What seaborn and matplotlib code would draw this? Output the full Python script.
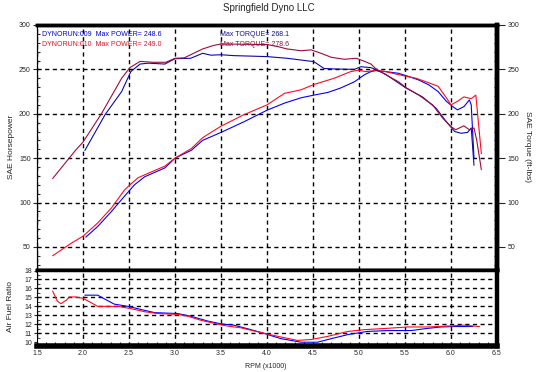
import numpy as np
import matplotlib
matplotlib.use('Agg')
import matplotlib.pyplot as plt
from matplotlib.ticker import MultipleLocator
import seaborn as sns

sns.set_style('ticks')
plt.rcParams['font.family'] = ['Liberation Sans', 'DejaVu Sans']

# Run 009 (blue) - power / torque
rpm_hp009 = [2.03, 2.16, 2.31, 2.45, 2.56, 2.67, 2.89, 3.0, 3.18, 3.3, 3.5, 3.75, 4.0, 4.19,
             4.37, 4.51, 4.66, 4.8, 4.95, 5.06, 5.13, 5.18, 5.29, 5.43, 5.54, 5.65, 5.76,
             5.86, 5.95, 6.02, 6.07, 6.14, 6.2, 6.22, 6.25]
hp_009 = [61, 73, 90, 107, 120, 129, 139, 150, 159, 170, 179, 191, 204, 212,
          218, 221, 224, 229, 236, 244, 247.5, 248.6, 247.5, 245.6, 242, 238, 232.5,
          225, 214, 208, 204.4, 208, 215.6, 210, 150]
rpm_tq009 = [2.02, 2.24, 2.42, 2.52, 2.62, 2.71, 2.89, 3.0, 3.17, 3.3, 3.39, 3.5, 3.64, 4.0,
             4.22, 4.51, 4.62, 4.73, 4.95, 5.02, 5.13, 5.29, 5.51, 5.69, 5.84, 5.95, 6.04,
             6.11, 6.18, 6.22, 6.25]
tq_009 = [158.6, 199, 225, 247.5, 256, 257, 256, 262, 262.5, 268.1, 266, 266.5, 265.5, 264.4,
          262.5, 258.7, 251, 250.5, 250, 253, 252, 244.5, 229, 219, 206, 191, 180,
          178, 179, 184, 142]

# Run 010 (red) - power / torque
rpm_hp010 = [1.67, 1.87, 2.0, 2.16, 2.31, 2.45, 2.51, 2.6, 2.71, 2.89, 3.0, 3.18, 3.3, 3.5,
             3.75, 4.0, 4.19, 4.37, 4.51, 4.73, 4.91, 4.99, 5.08, 5.18, 5.29, 5.43, 5.62,
             5.73, 5.86, 5.95, 6.0, 6.07, 6.14, 6.22, 6.27, 6.33]
hp_010 = [40, 54, 62, 77, 94, 114, 120, 128, 133, 141, 150, 161, 173, 186,
          199, 210, 223, 227, 233, 240, 247.5, 249, 247.5, 249, 247.5, 244, 240,
          236, 231, 218, 210, 214, 219, 217, 221, 155]
rpm_tq010 = [1.67, 1.92, 2.0, 2.2, 2.42, 2.51, 2.62, 2.76, 2.9, 3.0, 3.1, 3.3, 3.42, 3.5,
             4.0, 4.12, 4.22, 4.37, 4.48, 4.59, 4.7, 4.84, 4.97, 5.05, 5.13, 5.18, 5.29,
             5.43, 5.51, 5.65, 5.8, 5.91, 6.0, 6.05, 6.14, 6.2, 6.25, 6.28, 6.33]
tq_010 = [127, 159, 168, 200, 240, 252, 259, 258, 258, 262.5, 263, 273, 277, 278.6,
          278, 275.6, 273, 271, 272, 268, 263.6, 261.4, 262.5, 259.5, 256, 251, 244,
          236, 229.5, 221, 210, 195, 185.6, 182, 186.4, 182, 184, 170, 137]

# Air fuel ratio
rpm_afr009 = [2.02, 2.16, 2.23, 2.34, 2.49, 2.63, 2.78, 3.03, 3.17, 3.36, 3.5, 3.64, 3.79,
              3.93, 4.15, 4.37, 4.55, 4.7, 4.88, 5.09, 5.31, 5.57, 5.71, 5.89, 6.04, 6.24]
afr_009 = [15.25, 15.25, 14.85, 14.25, 14.0, 13.65, 13.3, 13.2, 12.9, 12.35, 12.05, 11.9, 11.5,
           11.1, 10.4, 10.0, 10.0, 10.4, 10.85, 11.2, 11.3, 11.3, 11.5, 11.7, 11.75, 11.75]
rpm_afr010 = [1.67, 1.72, 1.76, 1.82, 1.85, 1.92, 2.0, 2.09, 2.16, 2.38, 2.52, 2.67, 2.81,
              3.03, 3.14, 3.28, 3.43, 3.57, 3.72, 3.86, 4.01, 4.12, 4.33, 4.48, 4.66, 4.88,
              5.06, 5.31, 5.53, 5.75, 5.96, 6.14, 6.31]
afr_010 = [15.7, 14.6, 14.3, 14.7, 15.05, 15.05, 14.9, 14.4, 14.0, 14.0, 13.75, 13.4, 13.2,
           13.1, 12.9, 12.45, 12.1, 11.8, 11.6, 11.25, 10.9, 10.65, 10.2, 10.3, 10.65, 11.2,
           11.4, 11.55, 11.7, 11.7, 11.8, 11.9, 11.75]

hp_ticks = [50, 100, 150, 200, 250, 300]
afr_ticks = [10, 11, 12, 13, 14, 15, 16, 17, 18]
rpm_ticks = [1.5, 2.0, 2.5, 3.0, 3.5, 4.0, 4.5, 5.0, 5.5, 6.0, 6.5]

BLUE = '#0000ff'
NAVY = '#0a0aa8'
RED = '#ff0a1e'
MAROON = '#a00a3c'
LW = 0.8
grid_kw = dict(color='black', linestyle=(0, (3, 2.5)), linewidth=1.0)

fig = plt.figure(figsize=(5.37, 3.72), dpi=100)
ax = fig.add_axes([0.0689, 0.2742, 0.8566, 0.6586])
ax2 = ax.twinx()
afr = fig.add_axes([0.0689, 0.0712, 0.8566, 0.2030])

sns.lineplot(x=rpm_hp009, y=hp_009, color=BLUE, lw=LW, sort=False, estimator=None, ax=ax)
sns.lineplot(x=rpm_hp010, y=hp_010, color=RED, lw=LW, sort=False, estimator=None, ax=ax)
sns.lineplot(x=rpm_tq009, y=tq_009, color=NAVY, lw=LW, sort=False, estimator=None, ax=ax2)
sns.lineplot(x=rpm_tq010, y=tq_010, color=MAROON, lw=LW, sort=False, estimator=None, ax=ax2)
sns.lineplot(x=rpm_afr009, y=afr_009, color=BLUE, lw=LW, sort=False, estimator=None, ax=afr)
sns.lineplot(x=rpm_afr010, y=afr_010, color=RED, lw=LW, sort=False, estimator=None, ax=afr)

for a in (ax, ax2):
    a.set_ylim(24, 300)
    a.set_xlim(1.5, 6.5)
    a.set_yticks(hp_ticks)
    a.yaxis.set_minor_locator(MultipleLocator(10))
    a.set_ylabel('')
ax.xaxis.set_major_locator(MultipleLocator(0.5))
ax.tick_params(axis='x', length=0, labelbottom=False)
ax.tick_params(axis='y', which='major', direction='out', length=3, width=0.8, pad=1.5, labelsize=5)
ax.tick_params(axis='y', which='minor', direction='in', length=2.5, width=0.8)
ax2.tick_params(axis='y', which='major', direction='out', length=6, width=0.8, pad=1.5, labelsize=5)
ax2.tick_params(axis='y', which='minor', direction='in', length=2.5, width=0.8)
ax.grid(True, which='major', **grid_kw)

afr.set_xlim(1.5, 6.5)
afr.set_ylim(9.63, 18.06)
afr.set_yticks(afr_ticks)
afr.yaxis.set_minor_locator(MultipleLocator(0.5))
afr.set_xticks(rpm_ticks)
afr.set_xticklabels([f'{t:.1f}' for t in rpm_ticks])
afr.xaxis.set_minor_locator(MultipleLocator(0.1))
afr.tick_params(axis='x', which='major', length=0, pad=3, labelsize=5)
afr.tick_params(axis='x', which='minor', direction='in', length=3, width=0.8)
afr.tick_params(axis='y', which='major', direction='out', length=2, width=0.8, pad=1.5, labelsize=5)
afr.tick_params(axis='y', which='minor', direction='in', length=2, width=0.6)
afr.grid(True, axis='x', which='major', **grid_kw)
for t in afr_ticks[1:-1]:
    afr.axhline(t, zorder=0.5, **grid_kw)
afr.set_ylabel('')

for a in (ax, ax2, afr):
    for s in a.spines.values():
        s.set_color('black')
ax.spines['top'].set_linewidth(2.5)
ax.spines['left'].set_linewidth(0.8)
ax.spines['bottom'].set_linewidth(2.5)
ax.spines['right'].set_linewidth(3.2)
ax2.spines['right'].set_linewidth(3.2)
ax2.spines['top'].set_linewidth(2.5)
ax2.spines['bottom'].set_linewidth(2.5)
afr.spines['top'].set_linewidth(2.5)
afr.spines['left'].set_linewidth(0.8)
afr.spines['right'].set_linewidth(3.2)
afr.spines['bottom'].set_linewidth(4)

# run annotations
ax.text(0.01, 0.963, 'DYNORUN:009  Max POWER= 248.6', color='#0000d0', fontsize=5,
        transform=ax.transAxes, va='center')
ax.text(0.01, 0.922, 'DYNORUN:010  Max POWER= 249.0', color='#e0102a', fontsize=5,
        transform=ax.transAxes, va='center')
ax.text(0.398, 0.963, 'Max TORQUE= 268.1', color='#101080', fontsize=5,
        transform=ax.transAxes, va='center')
ax.text(0.398, 0.922, 'Max TORQUE= 278.6', color='#901030', fontsize=5,
        transform=ax.transAxes, va='center')

fig.text(0.5, 0.978, 'Springfield Dyno LLC', ha='center', va='center', fontsize=7)
fig.text(0.022, 0.605, 'SAE Horsepower', rotation=90, ha='center', va='center', fontsize=6)
fig.text(0.982, 0.605, 'SAE Torque (ft-lbs)', rotation=270, ha='center', va='center', fontsize=6)
fig.text(0.019, 0.175, 'Air Fuel Ratio', rotation=90, ha='center', va='center', fontsize=6)
fig.text(0.494, 0.016, 'RPM (x1000)', ha='center', va='center', fontsize=5)

fig.savefig('out.png', dpi=100)
